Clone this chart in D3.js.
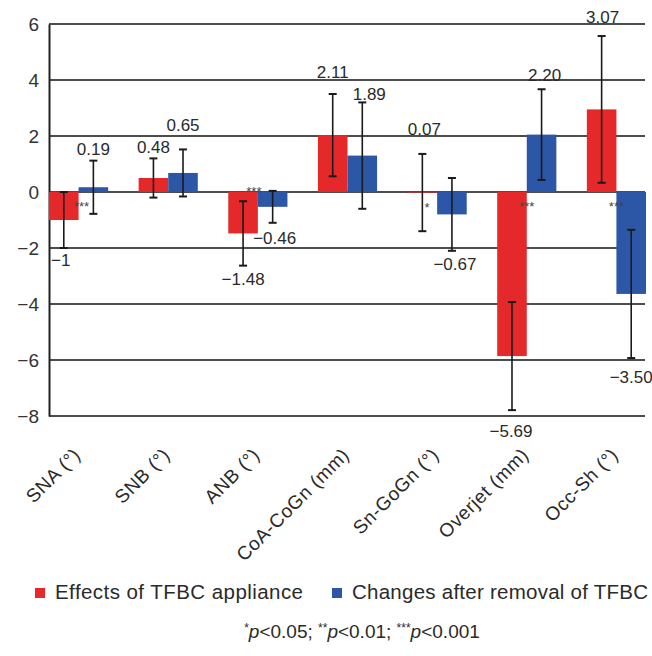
<!DOCTYPE html>
<html>
<head>
<meta charset="utf-8">
<script src="https://cdn.jsdelivr.net/npm/d3@7"></script>
<style>
  html, body { margin: 0; padding: 0; background: #fff; }
  svg { display: block; font-family: "Liberation Sans", Arial, Helvetica, sans-serif; }
</style>
</head>
<body>
<svg id="chart" width="652" height="656"></svg>
<script>
// ---- data ----
const categories = ["SNA (°)", "SNB (°)", "ANB (°)", "CoA-CoGn (mm)", "Sn-GoGn (°)", "Overjet (mm)", "Occ-Sh (°)"];
const seriesNames = ["Effects of TFBC appliance", "Changes after removal of TFBC"];
const effects     = [-1.0, 0.5, -1.48, 2.03, -0.02, -5.86, 2.95];
const effectsErr  = [1.0, 0.7, 1.15, 1.47, 1.38, 1.93, 2.62];
const changes     = [0.17, 0.68, -0.53, 1.3, -0.8, 2.05, -3.64];
const changesErr  = [0.95, 0.84, 0.57, 1.9, 1.3, 1.62, 2.29];
const effectsLabels = ["\u22121", "0.48", "\u22121.48", "2.11", "0.07", "\u22125.69", "3.07"];
const changesLabels = ["0.19", "0.65", "\u22120.46", "1.89", "\u22120.67", "2.20", "\u22123.50"];
const significance  = ["***", "", "***", "", "*", "***", "***"];
const yTicks = [-8, -6, -4, -2, 0, 2, 4, 6];

// ---- layout (not data) ----
const colors = ["#e5292b", "#2c57a6"];
const effLabelTweak = [[-3, 0], [0, 2], [0, 1], [0, -9], [2, -12], [-1, 9], [1, -6]];
const chgLabelTweak = [[0, 1], [0, -11], [2, 3], [7, 5], [3, 1], [3, -1], [0, 7]];
const sigTweak = [[3, 0], [-6, 0], [-4, 0], [6, 1], [-10, 1], [0, 0], [0, 0]];

const svg = d3.select("#chart");
const x0 = d3.scaleBand().domain(categories).range([49, 646]).paddingInner(0.34).paddingOuter(0);
const x1 = d3.scaleBand().domain([0, 1]).range([0, x0.bandwidth()]).padding(0);
const y = d3.scaleLinear().domain([-8, 6]).range([416, 24]);

// gridlines
svg.append("g").selectAll("line").data(yTicks).join("line")
  .attr("x1", 49).attr("x2", 645)
  .attr("y1", d => y(d)).attr("y2", d => y(d))
  .attr("stroke", "#111").attr("stroke-width", 1.4);

// y axis
const yAxis = d3.axisLeft(y).tickValues(yTicks).tickSize(0).tickPadding(10)
  .tickFormat(d => d < 0 ? "\u2212" + Math.abs(d) : String(d));
const ga = svg.append("g").attr("transform", "translate(49,0)").call(yAxis);
ga.select(".domain").attr("stroke", "#222").attr("stroke-width", 2);
ga.selectAll("text").attr("font-size", 19).attr("fill", "#333")
  .attr("font-family", "Liberation Sans, Arial, sans-serif");

const rows = categories.map((c, i) => ({
  cat: c, i,
  vals: [
    { s: 0, v: effects[i], e: effectsErr[i], lab: effectsLabels[i], tw: effLabelTweak[i] },
    { s: 1, v: changes[i], e: changesErr[i], lab: changesLabels[i], tw: chgLabelTweak[i] }
  ]
}));

const groups = svg.append("g").selectAll("g").data(rows).join("g")
  .attr("transform", d => `translate(${x0(d.cat)},0)`);

// bars
groups.selectAll("rect").data(d => d.vals).join("rect")
  .attr("x", d => x1(d.s))
  .attr("width", x1.bandwidth())
  .attr("y", d => y(Math.max(0, d.v)))
  .attr("height", d => Math.abs(y(d.v) - y(0)))
  .attr("fill", d => colors[d.s]);

// error bars
const eb = groups.selectAll("g.err").data(d => d.vals).join("g").attr("class", "err");
const cx = d => x1(d.s) + x1.bandwidth() / 2;
eb.append("line")
  .attr("x1", cx).attr("x2", cx)
  .attr("y1", d => y(d.v + d.e)).attr("y2", d => y(d.v - d.e))
  .attr("stroke", "#1a1a1a").attr("stroke-width", 1.6);
[1, -1].forEach(sgn => {
  eb.append("line")
    .attr("x1", d => cx(d) - 4).attr("x2", d => cx(d) + 4)
    .attr("y1", d => y(d.v + sgn * d.e)).attr("y2", d => y(d.v + sgn * d.e))
    .attr("stroke", "#1a1a1a").attr("stroke-width", 2);
});

// value labels (above the upper whisker for positive labels, below the lower one for negative)
const isNeg = d => d.lab.startsWith("\u2212");
groups.selectAll("text.val").data(d => d.vals).join("text").attr("class", "val")
  .attr("x", d => cx(d) + d.tw[0])
  .attr("y", d => (isNeg(d) ? y(d.v - d.e) + 18 : y(d.v + d.e) - 7) + d.tw[1])
  .attr("text-anchor", "middle")
  .attr("font-size", 17).attr("fill", "#2a2a2a")
  .text(d => d.lab);

// significance stars
groups.append("text")
  .attr("x", d => x0.bandwidth() / 2 + sigTweak[d.i][0])
  .attr("y", d => (d.i === 2 ? y(0) + 4 : y(0) + 19) + sigTweak[d.i][1])
  .attr("text-anchor", "middle")
  .attr("font-size", 13).attr("fill", "#444")
  .text(d => significance[d.i]);

// x labels
svg.append("g").selectAll("text").data(categories).join("text")
  .attr("transform", d => `translate(${x0(d) + x0.bandwidth() / 2 + 3},456) rotate(-45)`)
  .attr("text-anchor", "end")
  .attr("font-size", 19).attr("letter-spacing", 0.6).attr("fill", "#2a2a2a")
  .text(d => d);

// legend
const legend = svg.append("g");
const legX = [35, 332];
seriesNames.forEach((n, i) => {
  legend.append("rect").attr("x", legX[i]).attr("y", 588).attr("width", 10).attr("height", 10)
    .attr("fill", colors[i]);
  legend.append("text").attr("x", legX[i] + 20).attr("y", 599)
    .attr("font-size", 20.5).attr("fill", "#2a2a2a")
    .attr("textLength", i === 0 ? 248 : 296).attr("lengthAdjust", "spacing")
    .text(n);
});

// footnote
const fn = svg.append("text").attr("x", 362).attr("y", 638).attr("text-anchor", "middle")
  .attr("font-size", 19).attr("fill", "#2a2a2a");
const parts = [["*", true], ["p", "i"], ["<0.05; ", false], ["**", true], ["p", "i"], ["<0.01; ", false], ["***", true], ["p", "i"], ["<0.001", false]];
parts.forEach(([t, sup]) => {
  const ts = fn.append("tspan").text(t);
  if (sup === true) ts.attr("font-size", 12).attr("dy", -6);
  else if (sup === "i") ts.attr("font-style", "italic").attr("dy", 6);
});
</script>
</body>
</html>
